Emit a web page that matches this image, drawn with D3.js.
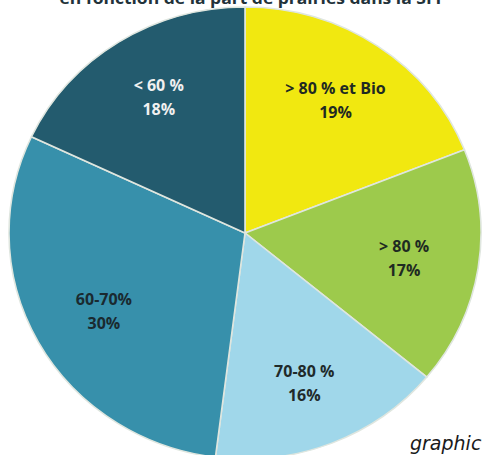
<!DOCTYPE html>
<html><head><meta charset="utf-8">
<script src="https://cdn.jsdelivr.net/npm/d3@7"></script>
<style>html,body{margin:0;padding:0;background:#fff;overflow:hidden}</style>
</head><body>
<svg id="chart" width="482" height="455"></svg>
<script>
const categories = ["> 80 % et Bio", "> 80 %", "70-80 %", "60-70%", "< 60 %"];
const values = [19, 17, 16, 30, 18];
const colors = ["#f1e810", "#9dca4c", "#a0d7ea", "#3790ab", "#235b6e"];
const textColors = ["#1f2a22", "#1f2a22", "#1f2a2a", "#1a2a30", "#f0f0f0"];
const title = "en fonction de la part de prairies dans la SFP";
const note = "graphic";

const svg = d3.select("#chart");
const cx = 245, cy = 233, rx = 236, ry = 226;

svg.append("text")
  .attr("x", 253).attr("y", 4)
  .attr("text-anchor", "middle")
  .attr("font-family", "Open Sans, sans-serif")
  .attr("font-weight", "bold")
  .attr("font-size", 16)
  .attr("fill", "#22323a")
  .attr("textLength", 387)
  .attr("lengthAdjust", "spacingAndGlyphs")
  .text(title);

const pie = d3.pie().sort(null).value(d => d);
const arcs = pie(values);
const arc = d3.arc().innerRadius(0).outerRadius(rx);

const g = svg.append("g")
  .attr("transform", `translate(${cx},${cy}) scale(1,${ry / rx})`);

g.selectAll("path").data(arcs).join("path")
  .attr("d", arc)
  .attr("fill", (d, i) => colors[i])
  .attr("stroke", "#dfe6df")
  .attr("stroke-width", 1.6);

const labelArc = d3.arc().innerRadius(161).outerRadius(161);
const lg = svg.append("g").attr("transform", `translate(${cx},${cy})`);
arcs.forEach((d, i) => {
  const [x, y] = labelArc.centroid(d);
  const t = lg.append("text")
    .attr("text-anchor", "middle")
    .attr("font-family", "Open Sans, sans-serif")
    .attr("font-weight", "bold")
    .attr("font-size", 16)
    .attr("fill", textColors[i]);
  t.append("tspan").attr("x", x).attr("y", y - 6).text(categories[i]);
  t.append("tspan").attr("x", x).attr("y", y + 18).text(values[i] + "%");
});

svg.append("text")
  .attr("x", 410).attr("y", 450)
  .attr("font-family", "DejaVu Sans, Verdana, sans-serif")
  .attr("font-style", "italic")
  .attr("font-size", 19)
  .attr("fill", "#1a1a1a")
  .text(note);
</script>
</body></html>
